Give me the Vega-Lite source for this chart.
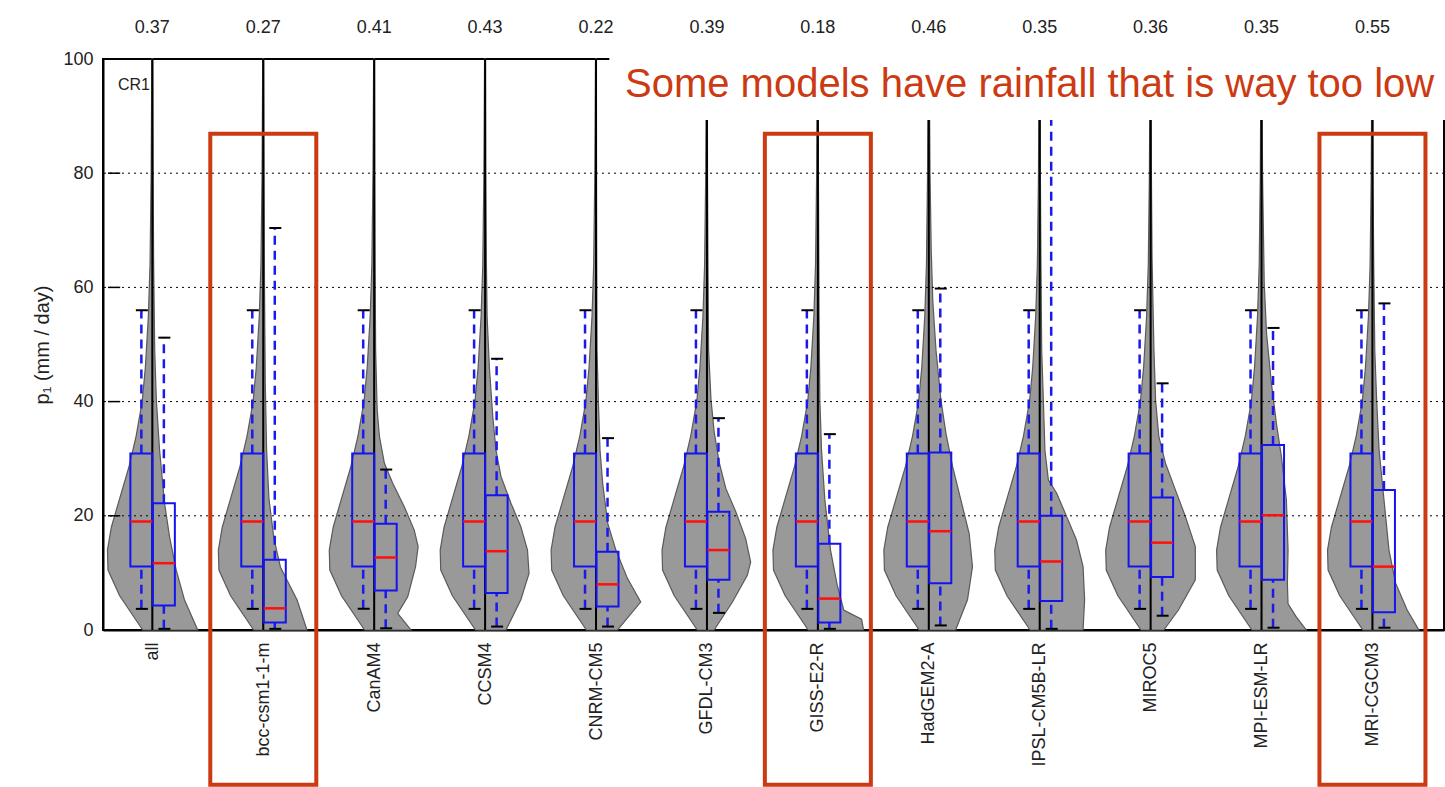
{
  "$schema": "https://vega.github.io/schema/vega-lite/v6.json",
  "width": 1341,
  "height": 571,
  "autosize": "none",
  "padding": {"left": 103, "top": 59, "right": 1, "bottom": 157},
  "background": "white",
  "config": {
    "view": {"stroke": "#000", "strokeWidth": 2},
    "font": "Liberation Sans"
  },
  "datasets": {
    "models": [
      {"m": 0, "name": "all", "r": 0.37},
      {"m": 1, "name": "bcc-csm1-1-m", "r": 0.27},
      {"m": 2, "name": "CanAM4", "r": 0.41},
      {"m": 3, "name": "CCSM4", "r": 0.43},
      {"m": 4, "name": "CNRM-CM5", "r": 0.22},
      {"m": 5, "name": "GFDL-CM3", "r": 0.39},
      {"m": 6, "name": "GISS-E2-R", "r": 0.18},
      {"m": 7, "name": "HadGEM2-A", "r": 0.46},
      {"m": 8, "name": "IPSL-CM5B-LR", "r": 0.35},
      {"m": 9, "name": "MIROC5", "r": 0.36},
      {"m": 10, "name": "MPI-ESM-LR", "r": 0.35},
      {"m": 11, "name": "MRI-CGCM3", "r": 0.55}
    ],
    "grid": [{"g": 20}, {"g": 40}, {"g": 60}, {"g": 80}],
    "highlight": [{"m": 1}, {"m": 6}, {"m": 11}],
    "box": [
      {"m": 0, "s": "o", "lo": 3.7, "q1": 11.1, "med": 19, "q3": 30.9, "hi": 56},
      {"m": 1, "s": "o", "lo": 3.7, "q1": 11.1, "med": 19, "q3": 30.9, "hi": 56},
      {"m": 2, "s": "o", "lo": 3.7, "q1": 11.1, "med": 19, "q3": 30.9, "hi": 56},
      {"m": 3, "s": "o", "lo": 3.7, "q1": 11.1, "med": 19, "q3": 30.9, "hi": 56},
      {"m": 4, "s": "o", "lo": 3.7, "q1": 11.1, "med": 19, "q3": 30.9, "hi": 56},
      {"m": 5, "s": "o", "lo": 3.7, "q1": 11.1, "med": 19, "q3": 30.9, "hi": 56},
      {"m": 6, "s": "o", "lo": 3.7, "q1": 11.1, "med": 19, "q3": 30.9, "hi": 56},
      {"m": 7, "s": "o", "lo": 3.7, "q1": 11.1, "med": 19, "q3": 30.9, "hi": 56},
      {"m": 8, "s": "o", "lo": 3.7, "q1": 11.1, "med": 19, "q3": 30.9, "hi": 56},
      {"m": 9, "s": "o", "lo": 3.7, "q1": 11.1, "med": 19, "q3": 30.9, "hi": 56},
      {"m": 10, "s": "o", "lo": 3.7, "q1": 11.1, "med": 19, "q3": 30.9, "hi": 56},
      {"m": 11, "s": "o", "lo": 3.7, "q1": 11.1, "med": 19, "q3": 30.9, "hi": 56},
      {"m": 0, "s": "r", "lo": 0.2, "q1": 4.3, "med": 11.7, "q3": 22.2, "hi": 51.2},
      {"m": 1, "s": "r", "lo": 0.2, "q1": 1.3, "med": 3.8, "q3": 12.3, "hi": 70.4},
      {"m": 2, "s": "r", "lo": 0.3, "q1": 6.9, "med": 12.7, "q3": 18.6, "hi": 28.1},
      {"m": 3, "s": "r", "lo": 0.6, "q1": 6.5, "med": 13.8, "q3": 23.6, "hi": 47.5},
      {"m": 4, "s": "r", "lo": 0.6, "q1": 4.1, "med": 8.0, "q3": 13.7, "hi": 33.6},
      {"m": 5, "s": "r", "lo": 3.0, "q1": 8.8, "med": 14.0, "q3": 20.7, "hi": 37.1},
      {"m": 6, "s": "r", "lo": 0.2, "q1": 1.3, "med": 5.5, "q3": 15.1, "hi": 34.3},
      {"m": 7, "s": "r", "lo": 0.8, "q1": 8.2, "med": 17.3, "q3": 31.1, "hi": 59.8},
      {"m": 8, "s": "r", "lo": 0.2, "q1": 5.1, "med": 12.0, "q3": 20.0, "hi": 96},
      {"m": 9, "s": "r", "lo": 2.5, "q1": 9.3, "med": 15.3, "q3": 23.2, "hi": 43.2},
      {"m": 10, "s": "r", "lo": 0.4, "q1": 8.8, "med": 20.1, "q3": 32.4, "hi": 52.9},
      {"m": 11, "s": "r", "lo": 0.4, "q1": 3.1, "med": 11.1, "q3": 24.5, "hi": 57.2}
    ],
    "violin": [
      {"m":0,"s":"o","p":0,"x":-0.087},{"m":0,"s":"o","p":6,"x":-0.295},{"m":0,"s":"o","p":10.5,"x":-0.4},{"m":0,"s":"o","p":14,"x":-0.405},{"m":0,"s":"o","p":18,"x":-0.37},{"m":0,"s":"o","p":23,"x":-0.295},{"m":0,"s":"o","p":28.5,"x":-0.212},{"m":0,"s":"o","p":34,"x":-0.146},{"m":0,"s":"o","p":40,"x":-0.092},{"m":0,"s":"o","p":46,"x":-0.063},{"m":0,"s":"o","p":55,"x":-0.036},{"m":0,"s":"o","p":64,"x":-0.021},{"m":0,"s":"o","p":80,"x":-0.011},{"m":0,"s":"o","p":100,"x":-0.005},
      {"m":1,"s":"o","p":0,"x":0.913},{"m":1,"s":"o","p":6,"x":0.705},{"m":1,"s":"o","p":10.5,"x":0.6},{"m":1,"s":"o","p":14,"x":0.595},{"m":1,"s":"o","p":18,"x":0.63},{"m":1,"s":"o","p":23,"x":0.705},{"m":1,"s":"o","p":28.5,"x":0.788},{"m":1,"s":"o","p":34,"x":0.854},{"m":1,"s":"o","p":40,"x":0.908},{"m":1,"s":"o","p":46,"x":0.937},{"m":1,"s":"o","p":55,"x":0.964},{"m":1,"s":"o","p":64,"x":0.979},{"m":1,"s":"o","p":80,"x":0.989},{"m":1,"s":"o","p":100,"x":0.995},
      {"m":2,"s":"o","p":0,"x":1.913},{"m":2,"s":"o","p":6,"x":1.705},{"m":2,"s":"o","p":10.5,"x":1.6},{"m":2,"s":"o","p":14,"x":1.595},{"m":2,"s":"o","p":18,"x":1.63},{"m":2,"s":"o","p":23,"x":1.705},{"m":2,"s":"o","p":28.5,"x":1.788},{"m":2,"s":"o","p":34,"x":1.854},{"m":2,"s":"o","p":40,"x":1.908},{"m":2,"s":"o","p":46,"x":1.937},{"m":2,"s":"o","p":55,"x":1.964},{"m":2,"s":"o","p":64,"x":1.979},{"m":2,"s":"o","p":80,"x":1.989},{"m":2,"s":"o","p":100,"x":1.995},
      {"m":3,"s":"o","p":0,"x":2.913},{"m":3,"s":"o","p":6,"x":2.705},{"m":3,"s":"o","p":10.5,"x":2.6},{"m":3,"s":"o","p":14,"x":2.595},{"m":3,"s":"o","p":18,"x":2.63},{"m":3,"s":"o","p":23,"x":2.705},{"m":3,"s":"o","p":28.5,"x":2.788},{"m":3,"s":"o","p":34,"x":2.854},{"m":3,"s":"o","p":40,"x":2.908},{"m":3,"s":"o","p":46,"x":2.937},{"m":3,"s":"o","p":55,"x":2.964},{"m":3,"s":"o","p":64,"x":2.979},{"m":3,"s":"o","p":80,"x":2.989},{"m":3,"s":"o","p":100,"x":2.995},
      {"m":4,"s":"o","p":0,"x":3.913},{"m":4,"s":"o","p":6,"x":3.705},{"m":4,"s":"o","p":10.5,"x":3.6},{"m":4,"s":"o","p":14,"x":3.595},{"m":4,"s":"o","p":18,"x":3.63},{"m":4,"s":"o","p":23,"x":3.705},{"m":4,"s":"o","p":28.5,"x":3.788},{"m":4,"s":"o","p":34,"x":3.854},{"m":4,"s":"o","p":40,"x":3.908},{"m":4,"s":"o","p":46,"x":3.937},{"m":4,"s":"o","p":55,"x":3.964},{"m":4,"s":"o","p":64,"x":3.979},{"m":4,"s":"o","p":80,"x":3.989},{"m":4,"s":"o","p":100,"x":3.995},
      {"m":5,"s":"o","p":0,"x":4.913},{"m":5,"s":"o","p":6,"x":4.705},{"m":5,"s":"o","p":10.5,"x":4.6},{"m":5,"s":"o","p":14,"x":4.595},{"m":5,"s":"o","p":18,"x":4.63},{"m":5,"s":"o","p":23,"x":4.705},{"m":5,"s":"o","p":28.5,"x":4.788},{"m":5,"s":"o","p":34,"x":4.854},{"m":5,"s":"o","p":40,"x":4.908},{"m":5,"s":"o","p":46,"x":4.937},{"m":5,"s":"o","p":55,"x":4.964},{"m":5,"s":"o","p":64,"x":4.979},{"m":5,"s":"o","p":80,"x":4.989},{"m":5,"s":"o","p":100,"x":4.995},
      {"m":6,"s":"o","p":0,"x":5.913},{"m":6,"s":"o","p":6,"x":5.705},{"m":6,"s":"o","p":10.5,"x":5.6},{"m":6,"s":"o","p":14,"x":5.595},{"m":6,"s":"o","p":18,"x":5.63},{"m":6,"s":"o","p":23,"x":5.705},{"m":6,"s":"o","p":28.5,"x":5.788},{"m":6,"s":"o","p":34,"x":5.854},{"m":6,"s":"o","p":40,"x":5.908},{"m":6,"s":"o","p":46,"x":5.937},{"m":6,"s":"o","p":55,"x":5.964},{"m":6,"s":"o","p":64,"x":5.979},{"m":6,"s":"o","p":80,"x":5.989},{"m":6,"s":"o","p":100,"x":5.995},
      {"m":7,"s":"o","p":0,"x":6.913},{"m":7,"s":"o","p":6,"x":6.705},{"m":7,"s":"o","p":10.5,"x":6.6},{"m":7,"s":"o","p":14,"x":6.595},{"m":7,"s":"o","p":18,"x":6.63},{"m":7,"s":"o","p":23,"x":6.705},{"m":7,"s":"o","p":28.5,"x":6.788},{"m":7,"s":"o","p":34,"x":6.854},{"m":7,"s":"o","p":40,"x":6.908},{"m":7,"s":"o","p":46,"x":6.937},{"m":7,"s":"o","p":55,"x":6.964},{"m":7,"s":"o","p":64,"x":6.979},{"m":7,"s":"o","p":80,"x":6.989},{"m":7,"s":"o","p":100,"x":6.995},
      {"m":8,"s":"o","p":0,"x":7.913},{"m":8,"s":"o","p":6,"x":7.705},{"m":8,"s":"o","p":10.5,"x":7.6},{"m":8,"s":"o","p":14,"x":7.595},{"m":8,"s":"o","p":18,"x":7.63},{"m":8,"s":"o","p":23,"x":7.705},{"m":8,"s":"o","p":28.5,"x":7.788},{"m":8,"s":"o","p":34,"x":7.854},{"m":8,"s":"o","p":40,"x":7.908},{"m":8,"s":"o","p":46,"x":7.937},{"m":8,"s":"o","p":55,"x":7.964},{"m":8,"s":"o","p":64,"x":7.979},{"m":8,"s":"o","p":80,"x":7.989},{"m":8,"s":"o","p":100,"x":7.995},
      {"m":9,"s":"o","p":0,"x":8.913},{"m":9,"s":"o","p":6,"x":8.705},{"m":9,"s":"o","p":10.5,"x":8.6},{"m":9,"s":"o","p":14,"x":8.595},{"m":9,"s":"o","p":18,"x":8.63},{"m":9,"s":"o","p":23,"x":8.705},{"m":9,"s":"o","p":28.5,"x":8.788},{"m":9,"s":"o","p":34,"x":8.854},{"m":9,"s":"o","p":40,"x":8.908},{"m":9,"s":"o","p":46,"x":8.937},{"m":9,"s":"o","p":55,"x":8.964},{"m":9,"s":"o","p":64,"x":8.979},{"m":9,"s":"o","p":80,"x":8.989},{"m":9,"s":"o","p":100,"x":8.995},
      {"m":10,"s":"o","p":0,"x":9.913},{"m":10,"s":"o","p":6,"x":9.705},{"m":10,"s":"o","p":10.5,"x":9.6},{"m":10,"s":"o","p":14,"x":9.595},{"m":10,"s":"o","p":18,"x":9.63},{"m":10,"s":"o","p":23,"x":9.705},{"m":10,"s":"o","p":28.5,"x":9.788},{"m":10,"s":"o","p":34,"x":9.854},{"m":10,"s":"o","p":40,"x":9.908},{"m":10,"s":"o","p":46,"x":9.937},{"m":10,"s":"o","p":55,"x":9.964},{"m":10,"s":"o","p":64,"x":9.979},{"m":10,"s":"o","p":80,"x":9.989},{"m":10,"s":"o","p":100,"x":9.995},
      {"m":11,"s":"o","p":0,"x":10.913},{"m":11,"s":"o","p":6,"x":10.705},{"m":11,"s":"o","p":10.5,"x":10.6},{"m":11,"s":"o","p":14,"x":10.595},{"m":11,"s":"o","p":18,"x":10.63},{"m":11,"s":"o","p":23,"x":10.705},{"m":11,"s":"o","p":28.5,"x":10.788},{"m":11,"s":"o","p":34,"x":10.854},{"m":11,"s":"o","p":40,"x":10.908},{"m":11,"s":"o","p":46,"x":10.937},{"m":11,"s":"o","p":55,"x":10.964},{"m":11,"s":"o","p":64,"x":10.979},{"m":11,"s":"o","p":80,"x":10.989},{"m":11,"s":"o","p":100,"x":10.995},
      {"m":0,"s":"r","p":0,"x":0.409},{"m":0,"s":"r","p":5.3,"x":0.289},{"m":0,"s":"r","p":10.5,"x":0.215},{"m":0,"s":"r","p":16.3,"x":0.155},{"m":0,"s":"r","p":22.2,"x":0.11},{"m":0,"s":"r","p":31.5,"x":0.065},{"m":0,"s":"r","p":40.2,"x":0.036},{"m":0,"s":"r","p":49,"x":0.021},{"m":0,"s":"r","p":65,"x":0.011},{"m":0,"s":"r","p":80,"x":0.007},{"m":0,"s":"r","p":100,"x":0.003},
      {"m":1,"s":"r","p":0,"x":1.394},{"m":1,"s":"r","p":5.3,"x":1.304},{"m":1,"s":"r","p":11,"x":1.155},{"m":1,"s":"r","p":16,"x":1.096},{"m":1,"s":"r","p":23,"x":1.051},{"m":1,"s":"r","p":31.5,"x":1.03},{"m":1,"s":"r","p":43,"x":1.018},{"m":1,"s":"r","p":60,"x":1.011},{"m":1,"s":"r","p":80,"x":1.007},{"m":1,"s":"r","p":100,"x":1.003},
      {"m":2,"s":"r","p":0,"x":2.331},{"m":2,"s":"r","p":2.9,"x":2.212},{"m":2,"s":"r","p":5.8,"x":2.302},{"m":2,"s":"r","p":11.1,"x":2.373},{"m":2,"s":"r","p":14.6,"x":2.396},{"m":2,"s":"r","p":17.5,"x":2.361},{"m":2,"s":"r","p":21.6,"x":2.271},{"m":2,"s":"r","p":25.7,"x":2.167},{"m":2,"s":"r","p":29.2,"x":2.092},{"m":2,"s":"r","p":33.9,"x":2.047},{"m":2,"s":"r","p":38.5,"x":2.027},{"m":2,"s":"r","p":49,"x":2.013},{"m":2,"s":"r","p":65,"x":2.008},{"m":2,"s":"r","p":80,"x":2.005},{"m":2,"s":"r","p":100,"x":2.003},
      {"m":3,"s":"r","p":0,"x":3.188},{"m":3,"s":"r","p":5.3,"x":3.322},{"m":3,"s":"r","p":9.9,"x":3.396},{"m":3,"s":"r","p":14,"x":3.382},{"m":3,"s":"r","p":18.1,"x":3.322},{"m":3,"s":"r","p":22.2,"x":3.233},{"m":3,"s":"r","p":26.9,"x":3.143},{"m":3,"s":"r","p":31.5,"x":3.098},{"m":3,"s":"r","p":37.4,"x":3.069},{"m":3,"s":"r","p":46.1,"x":3.038},{"m":3,"s":"r","p":54.9,"x":3.018},{"m":3,"s":"r","p":65,"x":3.011},{"m":3,"s":"r","p":80,"x":3.006},{"m":3,"s":"r","p":100,"x":3.003},
      {"m":4,"s":"r","p":0,"x":4.194},{"m":4,"s":"r","p":4.9,"x":4.403},{"m":4,"s":"r","p":9,"x":4.284},{"m":4,"s":"r","p":14,"x":4.179},{"m":4,"s":"r","p":18.7,"x":4.105},{"m":4,"s":"r","p":25.7,"x":4.06},{"m":4,"s":"r","p":31.5,"x":4.036},{"m":4,"s":"r","p":40.2,"x":4.021},{"m":4,"s":"r","p":49,"x":4.009},{"m":4,"s":"r","p":65,"x":4.006},{"m":4,"s":"r","p":80,"x":4.004},{"m":4,"s":"r","p":100,"x":4.003},
      {"m":5,"s":"r","p":0,"x":5.065},{"m":5,"s":"r","p":4.9,"x":5.23},{"m":5,"s":"r","p":9.6,"x":5.364},{"m":5,"s":"r","p":11.9,"x":5.394},{"m":5,"s":"r","p":16,"x":5.349},{"m":5,"s":"r","p":20.7,"x":5.26},{"m":5,"s":"r","p":24.8,"x":5.17},{"m":5,"s":"r","p":29.4,"x":5.11},{"m":5,"s":"r","p":34.7,"x":5.065},{"m":5,"s":"r","p":40.5,"x":5.036},{"m":5,"s":"r","p":49,"x":5.015},{"m":5,"s":"r","p":65,"x":5.009},{"m":5,"s":"r","p":80,"x":5.005},{"m":5,"s":"r","p":100,"x":5.003},
      {"m":6,"s":"r","p":0,"x":6.412},{"m":6,"s":"r","p":1.9,"x":6.394},{"m":6,"s":"r","p":3.5,"x":6.233},{"m":6,"s":"r","p":8,"x":6.173},{"m":6,"s":"r","p":14,"x":6.114},{"m":6,"s":"r","p":22.8,"x":6.063},{"m":6,"s":"r","p":31.5,"x":6.033},{"m":6,"s":"r","p":40.2,"x":6.018},{"m":6,"s":"r","p":55,"x":6.011},{"m":6,"s":"r","p":80,"x":6.005},{"m":6,"s":"r","p":100,"x":6.003},
      {"m":7,"s":"r","p":0,"x":7.242},{"m":7,"s":"r","p":5.3,"x":7.349},{"m":7,"s":"r","p":11.1,"x":7.394},{"m":7,"s":"r","p":16.9,"x":7.364},{"m":7,"s":"r","p":22.8,"x":7.289},{"m":7,"s":"r","p":28.6,"x":7.215},{"m":7,"s":"r","p":34.4,"x":7.155},{"m":7,"s":"r","p":40.2,"x":7.11},{"m":7,"s":"r","p":49,"x":7.065},{"m":7,"s":"r","p":57.7,"x":7.036},{"m":7,"s":"r","p":66.5,"x":7.022},{"m":7,"s":"r","p":80,"x":7.011},{"m":7,"s":"r","p":100,"x":7.004},
      {"m":8,"s":"r","p":0,"x":8.391},{"m":8,"s":"r","p":5.3,"x":8.405},{"m":8,"s":"r","p":11.1,"x":8.391},{"m":8,"s":"r","p":15.8,"x":8.331},{"m":8,"s":"r","p":19.9,"x":8.242},{"m":8,"s":"r","p":24,"x":8.152},{"m":8,"s":"r","p":26.3,"x":8.078},{"m":8,"s":"r","p":31.5,"x":8.047},{"m":8,"s":"r","p":40.2,"x":8.033},{"m":8,"s":"r","p":49,"x":8.018},{"m":8,"s":"r","p":65,"x":8.011},{"m":8,"s":"r","p":80,"x":8.006},{"m":8,"s":"r","p":100,"x":8.003},
      {"m":9,"s":"r","p":0,"x":9.119},{"m":9,"s":"r","p":3.5,"x":9.251},{"m":9,"s":"r","p":8.8,"x":9.403},{"m":9,"s":"r","p":14.6,"x":9.403},{"m":9,"s":"r","p":19.9,"x":9.313},{"m":9,"s":"r","p":24.5,"x":9.224},{"m":9,"s":"r","p":29.2,"x":9.134},{"m":9,"s":"r","p":33.9,"x":9.074},{"m":9,"s":"r","p":40.2,"x":9.045},{"m":9,"s":"r","p":49,"x":9.03},{"m":9,"s":"r","p":65,"x":9.013},{"m":9,"s":"r","p":80,"x":9.007},{"m":9,"s":"r","p":100,"x":9.003},
      {"m":10,"s":"r","p":0,"x":10.403},{"m":10,"s":"r","p":2.3,"x":10.313},{"m":10,"s":"r","p":4.6,"x":10.239},{"m":10,"s":"r","p":8.2,"x":10.233},{"m":10,"s":"r","p":14,"x":10.239},{"m":10,"s":"r","p":22.8,"x":10.224},{"m":10,"s":"r","p":30.4,"x":10.179},{"m":10,"s":"r","p":36.2,"x":10.134},{"m":10,"s":"r","p":43.2,"x":10.089},{"m":10,"s":"r","p":52,"x":10.045},{"m":10,"s":"r","p":60.8,"x":10.024},{"m":10,"s":"r","p":80,"x":10.009},{"m":10,"s":"r","p":100,"x":10.003},
      {"m":11,"s":"r","p":0,"x":11.418},{"m":11,"s":"r","p":3.5,"x":11.313},{"m":11,"s":"r","p":8.2,"x":11.209},{"m":11,"s":"r","p":14,"x":11.149},{"m":11,"s":"r","p":19.9,"x":11.119},{"m":11,"s":"r","p":25.7,"x":11.089},{"m":11,"s":"r","p":31.5,"x":11.06},{"m":11,"s":"r","p":40.2,"x":11.038},{"m":11,"s":"r","p":49,"x":11.021},{"m":11,"s":"r","p":65,"x":11.011},{"m":11,"s":"r","p":80,"x":11.005},{"m":11,"s":"r","p":100,"x":11.003}
    ]
  },
  "layer": [
    {
      "data": {"name": "models"},
      "mark": {"type": "tick", "opacity": 0},
      "encoding": {
        "x": {"field": "m", "type": "quantitative", "scale": {"domain": [-0.4, 11.6], "nice": false, "zero": false},
              "axis": {"orient": "bottom", "title": null, "values": [0,1,2,3,4,5,6,7,8,9,10,11], "ticks": false, "grid": false, "domain": true, "domainColor": "#000", "domainWidth": 2, "labelAngle": 270, "labelPadding": 12, "labelFontSize": 18, "labelColor": "#222", "labelFont": "Liberation Sans",
                       "labelExpr": "['all','bcc-csm1-1-m','CanAM4','CCSM4','CNRM-CM5','GFDL-CM3','GISS-E2-R','HadGEM2-A','IPSL-CM5B-LR','MIROC5','MPI-ESM-LR','MRI-CGCM3'][datum.value]"}},
        "y": {"field": "r", "type": "quantitative", "scale": {"domain": [0, 100], "nice": false, "zero": false},
              "axis": {"title": "p₁ (mm / day)", "titleFontSize": 20, "titleFontWeight": "normal", "titleColor": "#222", "titleFont": "Liberation Sans", "titlePadding": 10, "values": [0, 20, 40, 60, 80, 100], "grid": false, "ticks": false, "domain": true, "domainColor": "#000", "domainWidth": 2, "labelPadding": 10, "labelFontSize": 18, "labelColor": "#222", "labelFont": "Liberation Sans"}}
      }
    },
    {
      "data": {"name": "violin"},
      "mark": {"type": "area", "orient": "horizontal", "fill": "#999999", "stroke": "#5a5a5a", "strokeWidth": 1.2},
      "encoding": {
        "y": {"field": "p", "type": "quantitative"},
        "x": {"field": "x", "type": "quantitative"},
        "x2": {"field": "m"},
        "detail": [{"field": "m", "type": "nominal"}, {"field": "s", "type": "nominal"}]
      }
    },
    {
      "data": {"name": "grid"},
      "mark": {"type": "rule", "stroke": "#000", "strokeWidth": 1, "strokeDash": [2, 4]},
      "encoding": {"y": {"field": "g", "type": "quantitative"}}
    },
    {
      "data": {"name": "grid"},
      "mark": {"type": "rule", "stroke": "#000", "strokeWidth": 1.5},
      "encoding": {"y": {"field": "g", "type": "quantitative"}, "x": {"datum": -0.4}, "x2": {"datum": -0.29}}
    },
    {
      "data": {"name": "models"},
      "mark": {"type": "rule", "stroke": "#000", "strokeWidth": 2},
      "encoding": {
        "x": {"field": "m", "type": "quantitative"},
        "y": {"datum": 0},
        "y2": {"datum": 100}
      }
    },
    {
      "data": {"name": "box"},
      "transform": [{"filter": "datum.s == 'o'"}],
      "mark": {"type": "rule", "stroke": "#1a1aee", "strokeWidth": 2.5, "strokeDash": [9, 6], "xOffset": -11},
      "encoding": {"x": {"field": "m", "type": "quantitative"}, "y": {"field": "q3", "type": "quantitative"}, "y2": {"field": "hi"}}
    },
    {
      "data": {"name": "box"},
      "transform": [{"filter": "datum.s == 'o'"}],
      "mark": {"type": "rule", "stroke": "#1a1aee", "strokeWidth": 2.5, "strokeDash": [9, 6], "xOffset": -11},
      "encoding": {"x": {"field": "m", "type": "quantitative"}, "y": {"field": "lo", "type": "quantitative"}, "y2": {"field": "q1"}}
    },
    {
      "data": {"name": "box"},
      "transform": [{"filter": "datum.s == 'r'"}],
      "mark": {"type": "rule", "stroke": "#1a1aee", "strokeWidth": 2.5, "strokeDash": [9, 6], "xOffset": 11.5},
      "encoding": {"x": {"field": "m", "type": "quantitative"}, "y": {"field": "q3", "type": "quantitative"}, "y2": {"field": "hi"}}
    },
    {
      "data": {"name": "box"},
      "transform": [{"filter": "datum.s == 'r'"}],
      "mark": {"type": "rule", "stroke": "#1a1aee", "strokeWidth": 2.5, "strokeDash": [9, 6], "xOffset": 11.5},
      "encoding": {"x": {"field": "m", "type": "quantitative"}, "y": {"field": "lo", "type": "quantitative"}, "y2": {"field": "q1"}}
    },
    {
      "data": {"name": "box"},
      "transform": [{"filter": "datum.s == 'o'"}],
      "mark": {"type": "bar", "width": 22, "xOffset": -11, "fill": "transparent", "stroke": "#1414f0", "strokeWidth": 2},
      "encoding": {"x": {"field": "m", "type": "quantitative"}, "y": {"field": "q1", "type": "quantitative"}, "y2": {"field": "q3"}}
    },
    {
      "data": {"name": "box"},
      "transform": [{"filter": "datum.s == 'r'"}],
      "mark": {"type": "bar", "width": 22, "xOffset": 11.5, "fill": "transparent", "stroke": "#1414f0", "strokeWidth": 2},
      "encoding": {"x": {"field": "m", "type": "quantitative"}, "y": {"field": "q1", "type": "quantitative"}, "y2": {"field": "q3"}}
    },
    {
      "data": {"name": "box"},
      "transform": [{"filter": "datum.s == 'o'"}],
      "mark": {"type": "tick", "orient": "horizontal", "size": 22, "thickness": 2.5, "color": "#ff1010", "opacity": 1, "xOffset": -11},
      "encoding": {"x": {"field": "m", "type": "quantitative"}, "y": {"field": "med", "type": "quantitative"}}
    },
    {
      "data": {"name": "box"},
      "transform": [{"filter": "datum.s == 'r'"}],
      "mark": {"type": "tick", "orient": "horizontal", "size": 22, "thickness": 2.5, "color": "#ff1010", "opacity": 1, "xOffset": 11.5},
      "encoding": {"x": {"field": "m", "type": "quantitative"}, "y": {"field": "med", "type": "quantitative"}}
    },
    {
      "data": {"name": "box"},
      "transform": [{"filter": "datum.s == 'o'"}, {"fold": ["lo", "hi"], "as": ["k", "v"]}],
      "mark": {"type": "tick", "orient": "horizontal", "size": 12, "thickness": 2, "color": "#000", "opacity": 1, "xOffset": -10.5},
      "encoding": {"x": {"field": "m", "type": "quantitative"}, "y": {"field": "v", "type": "quantitative"}}
    },
    {
      "data": {"name": "box"},
      "transform": [{"filter": "datum.s == 'r'"}, {"fold": ["lo", "hi"], "as": ["k", "v"]}],
      "mark": {"type": "tick", "orient": "horizontal", "size": 12, "thickness": 2, "color": "#000", "opacity": 1, "xOffset": 12},
      "encoding": {"x": {"field": "m", "type": "quantitative"}, "y": {"field": "v", "type": "quantitative"}}
    },
    {
      "data": {"values": [{"c": 1}]},
      "mark": {"type": "rect", "fill": "white", "stroke": null},
      "encoding": {"x": {"datum": 4.12}, "x2": {"datum": 11.7}, "y": {"datum": 89.3}, "y2": {"datum": 102}}
    },
    {
      "data": {"name": "highlight"},
      "mark": {"type": "bar", "width": 106, "fill": "transparent", "stroke": "#cc3a12", "strokeWidth": 4},
      "encoding": {"x": {"field": "m", "type": "quantitative"}, "y": {"datum": 86.9}, "y2": {"datum": -27.1}}
    },
    {
      "data": {"name": "models"},
      "mark": {"type": "text", "fontSize": 18, "color": "#222", "align": "center", "baseline": "middle"},
      "encoding": {"x": {"field": "m", "type": "quantitative"}, "y": {"datum": 105.4}, "text": {"field": "r", "type": "quantitative", "format": ".2f"}}
    },
    {
      "data": {"values": [{"label": "CR1"}]},
      "mark": {"type": "text", "fontSize": 16, "color": "#222", "align": "left", "baseline": "middle"},
      "encoding": {"x": {"datum": -0.31}, "y": {"datum": 95.4}, "text": {"field": "label"}}
    },
    {
      "data": {"values": [{"label": "Some models have rainfall that is way too low"}]},
      "mark": {"type": "text", "fontSize": 40, "color": "#cc3a12", "align": "center", "baseline": "alphabetic"},
      "encoding": {"x": {"datum": 7.909}, "y": {"datum": 93.3}, "text": {"field": "label"}}
    }
  ]
}
